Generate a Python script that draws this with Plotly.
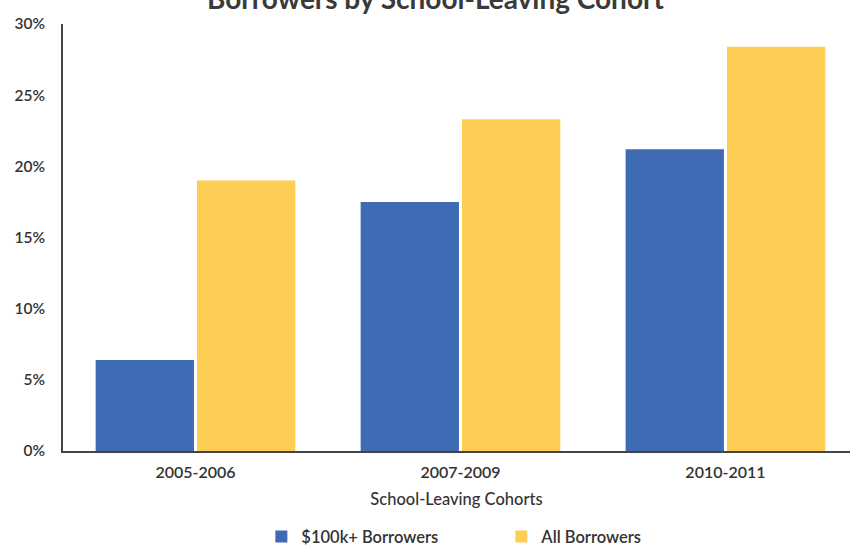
import plotly.graph_objects as go

# School-leaving cohorts and share of borrowers (percent) in each group
cohorts = ["2005-2006", "2007-2009", "2010-2011"]
borrowers_100k = [6.4, 17.5, 21.2]
all_borrowers = [19.0, 23.3, 28.4]
y_ticks = [0, 5, 10, 15, 20, 25, 30]
y_tick_labels = [f"{v}%" for v in y_ticks]

BLUE = "#3F6BB4"
YELLOW = "#FDCE54"
TEXT = "#333333"
FONT = "Lato"

fig = go.Figure()
fig.add_trace(go.Bar(name="$100k+ Borrowers", x=cohorts, y=borrowers_100k,
                     marker=dict(color=BLUE, line=dict(width=0))))
fig.add_trace(go.Bar(name="All Borrowers", x=cohorts, y=all_borrowers,
                     marker=dict(color=YELLOW, line=dict(width=0))))

fig.update_layout(
    width=850, height=546,
    margin=dict(l=63, r=0, t=24, b=95, autoexpand=False),
    paper_bgcolor="white", plot_bgcolor="white",
    barmode="group", bargap=0.235, bargroupgap=0.03,
    font=dict(family=FONT, color=TEXT, size=15),
    showlegend=True,
    legend=dict(orientation="h", x=0.557, xanchor="center",
                yref="container", y=0.017, yanchor="middle",
                font=dict(size=16.5, family=FONT, color=TEXT, weight=600),
                itemwidth=30, entrywidth=195, entrywidthmode="pixels",
                traceorder="normal"),
    annotations=[dict(text="<b>Borrowers by School-Leaving Cohort</b>",
                      xref="paper", yref="paper", x=0.473, y=1, xanchor="center",
                      yanchor="middle", yshift=26, showarrow=False,
                      font=dict(size=28, family=FONT, color="#3a3a3a"))],
)

fig.update_xaxes(
    range=[-0.5, 2.47], showline=True, linecolor="#444444", linewidth=1.5,
    ticks="", showgrid=False,
    tickfont=dict(size=16, family=FONT, color=TEXT, weight=600),
    ticklabelstandoff=6,
    title=dict(text="School-Leaving Cohorts", standoff=13,
               font=dict(size=16.5, family=FONT, color=TEXT, weight=500)),
)
fig.update_yaxes(
    range=[0, 30], showline=True, linecolor="#444444", linewidth=1.5,
    ticks="", showgrid=False, zeroline=False,
    tickvals=y_ticks, ticktext=y_tick_labels,
    tickfont=dict(size=15.5, family=FONT, color=TEXT, weight=600),
    ticklabelstandoff=13,
)

fig.write_html("out.html")
